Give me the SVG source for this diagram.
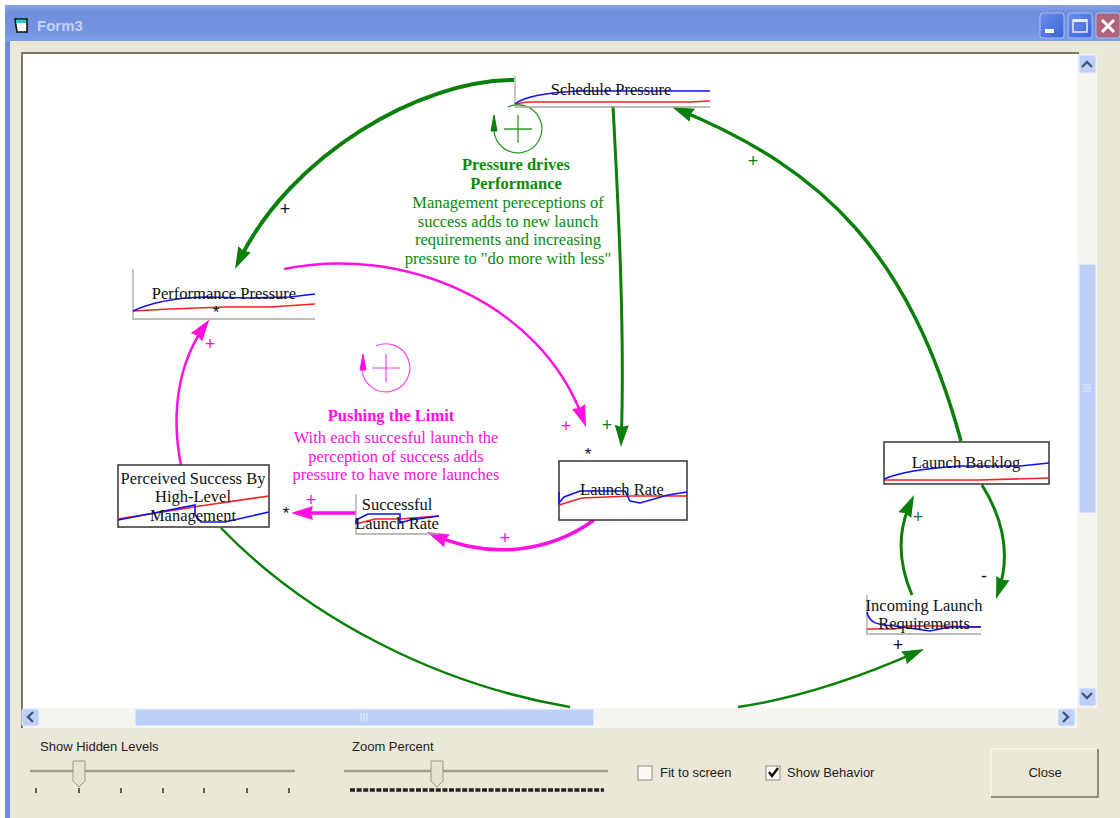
<svg xmlns="http://www.w3.org/2000/svg" width="1120" height="818" viewBox="0 0 1120 818">
<style>
.ui{font-family:"Liberation Sans",Arial,sans-serif;font-size:13px;fill:#222}
.lb{font-family:"Liberation Serif","Times New Roman",serif;font-size:16.5px;fill:#111;text-anchor:middle}
.gt{font-family:"Liberation Serif","Times New Roman",serif;font-size:16.5px;fill:#0a8a0a;text-anchor:middle}
.mt{font-family:"Liberation Serif","Times New Roman",serif;font-size:16.5px;fill:#ff10e0;text-anchor:middle}
.b{font-weight:bold}
.sym{font-family:"Liberation Sans",Arial,sans-serif;font-size:18px;text-anchor:middle}
.ast{font-family:"Liberation Sans",Arial,sans-serif;font-size:17px;text-anchor:middle}
.g{fill:none;stroke:#0a800a}
.m{fill:none;stroke:#ff10e0}
.blue{fill:none;stroke:#1010f0;stroke-width:1.6}
.red{fill:none;stroke:#f52020;stroke-width:1.6}
.axis{fill:none;stroke:#a8a69c;stroke-width:1.3}
.box{fill:#fff;stroke:#333;stroke-width:1.5}
.track{fill:#f6f5ef}
.thumb{fill:#bdd0f8;stroke:#f4f7ff;stroke-width:1}
.btn{fill:#bdd0f8;stroke:#e8eeff;stroke-width:1}
.chev{fill:none;stroke:#43557f;stroke-width:2.4}
.rail{stroke:#a09e90;stroke-width:2.5}
.tick{stroke:#333;stroke-width:1.5}
</style>
<defs>
<linearGradient id="tb" x1="0" y1="0" x2="0" y2="1"><stop offset="0" stop-color="#8aa6e8"/><stop offset="0.2" stop-color="#6f8edd"/><stop offset="0.75" stop-color="#7494e2"/><stop offset="1" stop-color="#7da0ea"/></linearGradient>
<linearGradient id="bb" x1="0" y1="0" x2="1" y2="1"><stop offset="0" stop-color="#6d8fea"/><stop offset="1" stop-color="#3a63d8"/></linearGradient>
<marker id="ag" markerUnits="userSpaceOnUse" markerWidth="24" markerHeight="16" refX="14" refY="7" orient="auto"><path d="M0 0L22 7L0 14L2 7Z" fill="#0a800a"/></marker>
<marker id="am" markerUnits="userSpaceOnUse" markerWidth="24" markerHeight="16" refX="14" refY="7" orient="auto"><path d="M0 0L22 7L0 14L2 7Z" fill="#ff10e0"/></marker>
</defs>

<g id="window">
<rect width="1120" height="818" fill="#fff"/>
<path d="M5 818V14Q5 5 14 5H1120V818Z" fill="#6f8edd"/>
<rect x="5" y="5" width="1115" height="36" fill="url(#tb)"/>
<rect x="10" y="41" width="1110" height="777" fill="#ebe8d8"/>
<rect x="21" y="52" width="1058" height="2" fill="#7a7868"/>
<rect x="21" y="52" width="2" height="676" fill="#7a7868"/>
<rect x="23" y="54" width="1054" height="654" fill="#fff"/>
</g>
<g id="titlebar">
<path d="M15 19H27V32H17Z" fill="#fff" stroke="#111" stroke-width="1.6"/><rect x="16" y="20" width="10" height="3" fill="#30c8c8"/>
<text x="37" y="31" font-family="'Liberation Sans',Arial,sans-serif" font-size="15" font-weight="bold" fill="#c3d2f4">Form3</text>
<rect x="1040" y="13" width="24" height="25" rx="3" fill="url(#bb)" stroke="#a9bdf0"/><rect x="1045" y="29" width="9" height="4" fill="#fff"/>
<rect x="1068" y="13" width="24" height="25" rx="3" fill="url(#bb)" stroke="#a9bdf0"/><rect x="1073" y="20" width="14" height="12" fill="none" stroke="#e8eeff" stroke-width="1.5"/><rect x="1073" y="19" width="14" height="3" fill="#e8eeff"/>
<rect x="1096" y="13" width="24" height="25" rx="3" fill="#b0647c" stroke="#a9bdf0"/><path d="M1102 20L1114 32M1114 20L1102 32" stroke="#fff" stroke-width="3"/>
</g>
<g id="scrollbars">
<rect class="track" x="1077" y="54" width="20" height="654"/>
<rect class="btn" x="1079" y="55" width="17" height="18" rx="2"/><path class="chev" d="M1082 67L1087 62L1092 67"/>
<rect class="thumb" x="1079" y="264" width="17" height="249" rx="1"/><path d="M1083 385H1091M1083 388H1091M1083 391H1091" stroke="#e4ecfd"/>
<rect class="btn" x="1079" y="688" width="17" height="18" rx="2"/><path class="chev" d="M1082 693L1087 698L1092 693"/>
<rect class="track" x="23" y="708" width="1054" height="20"/>
<rect class="btn" x="22" y="709" width="17" height="17" rx="2"/><path class="chev" d="M33 712L28 717L33 722"/>
<rect class="thumb" x="135" y="709" width="459" height="17" rx="1"/><path d="M361 713V721M364 713V721M367 713V721" stroke="#e4ecfd"/>
<rect class="btn" x="1058" y="709" width="17" height="17" rx="2"/><path class="chev" d="M1063 712L1068 717L1063 722"/>
</g>

<g id="connectors">
<path class="g" stroke-width="4" marker-end="url(#ag)" d="M514 80C420 80 290 155 238.5 261.8"/>
<path class="g" stroke-width="3" marker-end="url(#ag)" d="M613 106C618 200 625 330 621.3 439"/>
<path class="g" stroke-width="3.5" marker-end="url(#ag)" d="M961 441C910 255 825 170 679.4 110"/>
<path class="g" stroke-width="3" marker-end="url(#ag)" d="M982 485C1007 525 1009 560 998.5 591.4"/>
<path class="g" stroke-width="3" marker-end="url(#ag)" d="M912 595C897 560 898 530 910.7 502.3"/>
<path class="g" stroke-width="2.5" d="M221 528C310 620 440 685 570 707"/>
<path class="g" stroke-width="2.5" marker-end="url(#ag)" d="M738 707C800 698 865 675 916.7 652.2"/>
<path class="m" stroke-width="2.5" marker-end="url(#am)" d="M284 269C400 245 540 300 583.3 419.5"/>
<path class="m" stroke-width="2.5" marker-end="url(#am)" d="M181 465C170 410 180 360 204.7 326"/>
<path class="m" stroke-width="3.5" marker-end="url(#am)" d="M356 513H299"/>
<path class="m" stroke-width="3.5" marker-end="url(#am)" d="M594 520C550 552 490 560 434.3 535.2"/>
</g>

<g id="loop-pressure">
<path d="M494 131A24 24 0 1 0 508 107" fill="none" stroke="#2f9a2f" stroke-width="1.3"/>
<path d="M504 129H532M518 115V143" stroke="#2f9a2f" stroke-width="1.3"/>
<path d="M491 131L494 115L497 131Z" fill="#0a800a" stroke="#0a800a"/>
<text class="gt b" x="516" y="170">Pressure drives</text>
<text class="gt b" x="516" y="189">Performance</text>
<text class="gt" x="508" y="208">Management pereceptions of</text>
<text class="gt" x="508" y="227">success adds to new launch</text>
<text class="gt" x="508" y="245">requirements and increasing</text>
<text class="gt" x="508" y="264">pressure to "do more with less"</text>
</g>
<g id="loop-pushing">
<path d="M362 370A24 24 0 1 0 376 346" fill="none" stroke="#ff40e8" stroke-width="1.2"/>
<path d="M372 368H400M386 354V382" stroke="#ff40e8" stroke-width="1.2"/>
<path d="M360 370L363 354L366 370Z" fill="#ff10e0" stroke="#ff10e0"/>
<text class="mt b" x="391" y="421">Pushing the Limit</text>
<text class="mt" x="396" y="443">With each succesful launch the</text>
<text class="mt" x="396" y="462">perception of success adds</text>
<text class="mt" x="396" y="480">pressure to have more launches</text>
</g>

<g id="node-schedule-pressure">
<path class="axis" d="M515 76V107H710"/>
<path class="red" d="M515 104L527 102H690L710 101"/>
<path class="blue" d="M515 104C525 96 545 93 580 91H710"/>
<text class="lb" x="611" y="95">Schedule Pressure</text>
</g>
<g id="node-performance-pressure">
<path class="axis" d="M133 269V319H315"/>
<path class="red" d="M133 311L170 309L225 307H270L315 304"/>
<path class="blue" d="M133 311C150 303 170 298 205 297L250 298L290 297L315 294"/>
<text class="lb" x="224" y="299">Performance Pressure</text>
<text class="ast" x="216" y="318" fill="#111">*</text>
</g>
<g id="node-perceived-success">
<rect class="box" x="118" y="465" width="151" height="62"/>
<path class="red" d="M118 519L200 506L269 496"/>
<path class="blue" d="M118 520L195 505V515L201 522H225L269 512"/>
<text class="lb" x="193" y="484">Perceived Success By</text>
<text class="lb" x="193" y="502">High-Level</text>
<text class="lb" x="193" y="521">Management</text>
</g>
<g id="node-successful-launch-rate">
<path class="axis" d="M356 494V534H439"/>
<path class="red" d="M356 524L375 519H400L425 517L439 516"/>
<path class="blue" d="M356 524V520L368 514H400V523L410 520L439 516"/>
<text class="lb" x="397" y="510">Successful</text>
<text class="lb" x="397" y="529">Launch Rate</text>
</g>
<g id="node-launch-rate">
<rect class="box" x="559" y="461" width="128" height="59"/>
<path class="red" d="M559 505L582 498L630 496H687"/>
<path class="blue" d="M559 492V503L564 497L580 491H625L630 501L640 503L668 495L687 492"/>
<text class="lb" x="622" y="495">Launch Rate</text>
</g>
<g id="node-launch-backlog">
<rect class="box" x="884" y="442" width="165" height="42"/>
<path class="red" d="M884 480H980L1049 478"/>
<path class="blue" d="M884 479C900 472 930 468 960 466H1020L1049 463"/>
<text class="lb" x="966" y="468">Launch Backlog</text>
</g>
<g id="node-incoming-launch">
<path class="axis" d="M867 595V634H981"/>
<path class="red" d="M867 629H895L905 626H940L981 627"/>
<path class="blue" d="M867 612C869 622 875 625 895 626L930 631L950 627L981 627"/>
<text class="lb" x="924" y="611">Incoming Launch</text>
<text class="lb" x="924" y="629">Requirements</text>
</g>

<g id="polarity-labels">
<text class="sym" x="285" y="215" fill="#111">+</text>
<text class="sym" x="753" y="167" fill="#0a800a">+</text>
<text class="sym" x="210" y="350" fill="#ff10e0">+</text>
<text class="sym" x="566" y="432" fill="#ff10e0">+</text>
<text class="sym" x="607" y="431" fill="#0a800a">+</text>
<text class="ast" x="588" y="460" fill="#111">*</text>
<text class="sym" x="311" y="506" fill="#ff10e0">+</text>
<text class="ast" x="286" y="519" fill="#111">*</text>
<text class="sym" x="505" y="544" fill="#ff10e0">+</text>
<text class="sym" x="918" y="523" fill="#0a800a">+</text>
<text class="sym" x="984" y="582" fill="#111">-</text>
<text class="sym" x="898" y="651" fill="#111">+</text>
</g>

<g id="controls">
<text class="ui" x="40" y="751">Show Hidden Levels</text>
<line class="rail" x1="30" y1="771" x2="295" y2="771"/>
<g class="tick"><line x1="36" y1="788" x2="36" y2="793"/><line x1="79" y1="788" x2="79" y2="793"/><line x1="121" y1="788" x2="121" y2="793"/><line x1="163" y1="788" x2="163" y2="793"/><line x1="204" y1="788" x2="204" y2="793"/><line x1="247" y1="788" x2="247" y2="793"/><line x1="289" y1="788" x2="289" y2="793"/></g>
<path d="M73 761H85V781L79 787L73 781Z" fill="#e6e3d2" stroke="#99968a"/>
<text class="ui" x="352" y="751">Zoom Percent</text>
<line class="rail" x1="344" y1="771" x2="608" y2="771"/>
<line x1="350" y1="790" x2="604" y2="790" stroke="#222" stroke-width="3.5" stroke-dasharray="5 1.6"/>
<path d="M431 761H443V781L437 787L431 781Z" fill="#e6e3d2" stroke="#99968a"/>
<rect x="638" y="766" width="14" height="14" fill="#fbfaf5" stroke="#8f8d80"/>
<text class="ui" x="660" y="777">Fit to screen</text>
<rect x="766" y="766" width="14" height="14" fill="#fbfaf5" stroke="#8f8d80"/>
<path d="M769 772L772 776L778 768" fill="none" stroke="#111" stroke-width="2.4"/>
<text class="ui" x="787" y="777">Show Behavior</text>
<rect x="991" y="749" width="107" height="48" fill="#ebe8d8" stroke="#fafaf2"/>
<path d="M991 797H1098V749" fill="none" stroke="#8f8d80" stroke-width="2"/>
<text class="ui" x="1045" y="777" text-anchor="middle">Close</text>
</g>
</svg>
